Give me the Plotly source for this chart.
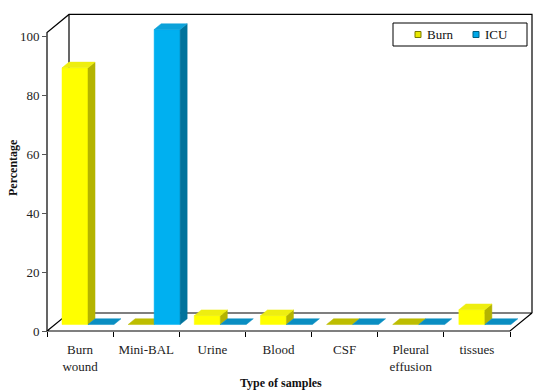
import plotly.graph_objects as go

categories = ["Burn<br>wound", "Mini-BAL", "Urine", "Blood", "CSF", "Pleural<br>effusion", "tissues"]
series_names = ["Burn", "ICU"]
burn = [87, 0, 3, 3, 0, 0, 5]
icu = [0, 100, 0, 0, 0, 0, 0]
y_ticks = [0, 20, 40, 60, 80, 100]

FONT = "Liberation Serif"

# pixel geometry of the pseudo-3D frame
PX_X = 66.143        # pixels per category unit
PX_Y = 2.95          # pixels per percent
DX = 22 / PX_X       # full depth shift in x (data units)
DY = 18 / PX_Y       # full depth shift in y (data units)
F1, F2 = 0.36, 0.68  # bar front / back depth fractions
BW = 0.393           # bar width
L, R, T, B = 40, 0, 10, 56
W, H = 533, 392
PW, PH = W - L - R, H - T - B

n = len(categories)
x0 = -0.5 - 7 / PX_X
x1 = x0 + PW / PX_X
y0 = -5 / PX_Y
y1 = y0 + PH / PX_Y

xl_edge, xr_edge = -0.5, n - 0.5
front_top = 101.2
back_top = front_top + DY

def px(x):   # pixel x -> paper
    return (x - L) / PW

def py(y):   # pixel y -> paper
    return (H - B - y) / PH

fig = go.Figure()

def line(xs, ys, w=1.2, color="black"):
    fig.add_trace(go.Scatter(x=xs, y=ys, mode="lines", line=dict(color=color, width=w),
                             hoverinfo="skip", showlegend=False))

# walls / floor
line([xl_edge + DX, xl_edge + DX], [DY, back_top])
line([xl_edge, xl_edge, xl_edge + DX, xr_edge + DX, xr_edge + DX], [0, front_top, back_top, back_top, DY])
line([xl_edge, xl_edge + DX, xr_edge + DX, xr_edge, xl_edge], [0, DY, DY, 0, 0])


def faces(values, offset, name, front_c, side_c, top_c, flat_c):
    fx, fy, sx, sy, tx, ty, zx, zy = [], [], [], [], [], [], [], []
    ddx, ddy = (F2 - F1) * DX, (F2 - F1) * DY
    for i, v in enumerate(values):
        c = i + offset
        xl = c - BW / 2 + F1 * DX
        xr = c + BW / 2 + F1 * DX
        yb = F1 * DY
        yt = yb + v
        if v > 0:
            fx += [xl, xr, xr, xl, xl, None]
            fy += [yb, yb, yt, yt, yb, None]
            sx += [xr, xr + ddx, xr + ddx, xr, xr, None]
            sy += [yb, yb + ddy, yt + ddy, yt, yb, None]
            tx += [xl, xr, xr + ddx, xl + ddx, xl, None]
            ty += [yt, yt, yt + ddy, yt + ddy, yt, None]
        else:
            zx += [xl, xr, xr + ddx, xl + ddx, xl, None]
            zy += [yt, yt, yt + ddy, yt + ddy, yt, None]
    for xs, ys, col in [(zx, zy, flat_c), (fx, fy, front_c), (sx, sy, side_c), (tx, ty, top_c)]:
        if xs:
            fig.add_trace(go.Scatter(x=xs, y=ys, mode="lines", fill="toself", fillcolor=col,
                                     line=dict(width=0.5, color=col), name=name,
                                     hoverinfo="skip", showlegend=False))

faces(burn, -BW / 2, series_names[0], "#FFFF00", "#B4B400", "#EEEE10", "#BDBD00")
faces(icu, BW / 2, series_names[1], "#00B0F0", "#00739C", "#0CA2DA", "#0A8EC2")

# manual legend (box, swatches, labels)
shapes = [dict(type="rect", xref="paper", yref="paper", x0=px(393), x1=px(527), y0=py(46), y1=py(23),
               line=dict(color="black", width=1), fillcolor="white", layer="above")]
annotations = []
for sx0, tx0, name, fc, lc in [(415, 425, series_names[0], "#E8E800", "#7A7A00"),
                               (473, 483, series_names[1], "#00A8E8", "#005F80")]:
    shapes.append(dict(type="rect", xref="paper", yref="paper", x0=px(sx0), x1=px(sx0 + 6),
                       y0=py(37.5), y1=py(31.5), fillcolor=fc, line=dict(color=lc, width=1),
                       layer="above"))
    annotations.append(dict(text=name, x=px(tx0), y=py(34.5), xref="paper", yref="paper",
                            showarrow=False, xanchor="left", yanchor="middle",
                            font=dict(family=FONT, size=13, color="#111")))

annotations += [
    dict(text="<b>Type of samples</b>", x=px(281), y=py(383),
         xref="paper", yref="paper", showarrow=False, font=dict(family=FONT, size=12, color="#111"),
         xanchor="center", yanchor="middle"),
    dict(text="<b>Percentage</b>", x=px(13), y=py(168),
         xref="paper", yref="paper", showarrow=False, textangle=-90,
         font=dict(family=FONT, size=12, color="#111"), xanchor="center", yanchor="middle"),
]

fig.update_layout(
    width=W, height=H,
    margin=dict(l=L, r=R, t=T, b=B),
    paper_bgcolor="white", plot_bgcolor="white",
    font=dict(family=FONT, size=13, color="#222"),
    showlegend=False,
    xaxis=dict(range=[x0, x1], showgrid=False, zeroline=False, showline=False,
               tickmode="array", tickvals=list(range(n)), ticktext=categories,
               tickfont=dict(family=FONT, size=13, color="#222"),
               ticks="outside", ticklen=6, tickcolor="rgba(0,0,0,0)",
               anchor="free", position=(0 - y0) / (y1 - y0),
               minor=dict(tickmode="array", tickvals=[i - 0.5 for i in range(n + 1)],
                          ticks="outside", ticklen=5, tickcolor="black", tickwidth=1.2)),
    yaxis=dict(range=[y0, y1], showgrid=False, zeroline=False, showline=False,
               tickmode="array", tickvals=y_ticks, ticks="outside", ticklen=5,
               tickfont=dict(family=FONT, size=13, color="#222"),
               tickcolor="#555", anchor="free", position=(xl_edge - x0) / (x1 - x0)),
    shapes=shapes,
    annotations=annotations,
)

fig.write_html("out.html")
